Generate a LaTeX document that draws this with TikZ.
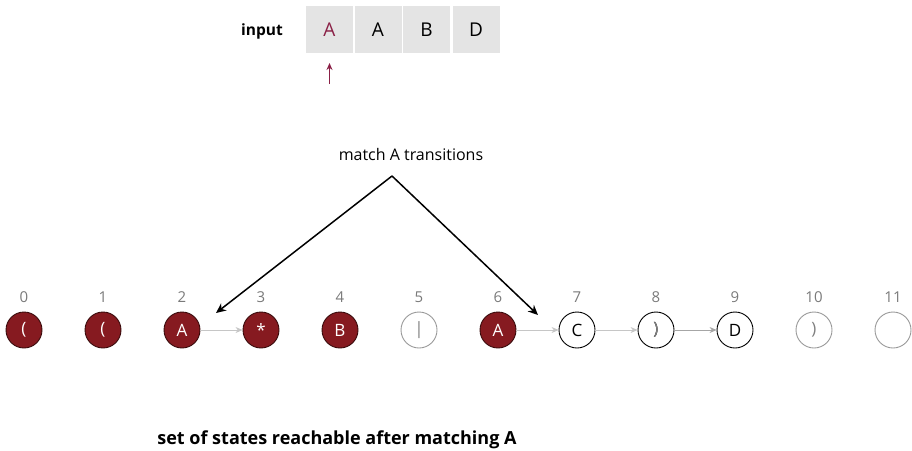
\documentclass[tikz,border=0pt]{standalone}
\usepackage{fontspec}
\setmainfont{Open Sans}
\usetikzlibrary{arrows.meta}
\definecolor{nfared}{HTML}{861A20}
\definecolor{nfaedge}{HTML}{3A0B0C}
\definecolor{cellgray}{HTML}{E4E4E4}
\definecolor{ptrred}{HTML}{8A2046}
\definecolor{idxgray}{HTML}{7A7A7A}
\tikzset{
  x=1pt, y=-1pt,
  cell/.style={fill=cellgray, minimum width=47pt, minimum height=47pt, inner sep=0pt, font=\fontsize{19}{19}\selectfont},
  reached/.style={circle, fill=nfared, draw=nfaedge, line width=0.9pt, minimum size=36pt, inner sep=0pt, text=white, font=\fontsize{17}{17}\selectfont},
  idle/.style={circle, draw=black, line width=0.9pt, minimum size=36pt, inner sep=0pt, font=\fontsize{17}{17}\selectfont},
  idlefaint/.style={idle, draw=gray!80, text=gray},
  idx/.style={text=idxgray, font=\fontsize{15}{15}\selectfont},
  eps/.style={draw=gray!45, line width=0.7pt, -{Stealth[length=7pt,width=6pt]}},
  pointer/.style={draw=black, line width=1.5pt, -{Stealth[length=10pt,width=9pt]}}
}
\begin{document}
\begin{tikzpicture}
\useasboundingbox (0,0) rectangle (912,450);
% input tape
\node[font=\bfseries\fontsize{15.5}{15.5}\selectfont] (inlabel) at (262,31) {input};
\node[cell, text=ptrred] (c0) at (329.5,29.5) {A};
\node[cell] (c1) at (378,29.5) {A};
\node[cell] (c2) at (426.5,29.5) {B};
\node[cell] (c3) at (476,29.5) {D};
\coordinate (ptrtail) at (329.5,84);
\draw[ptrred, line width=1.8pt, -{Stealth[length=7pt,width=6pt]}] (ptrtail) -- ++(0,-21);
% states
\foreach \i/\lab/\sty in {0/(/reached, 1/(/reached, 2/A/reached, 3/*/reached, 4/B/reached,
    5/|/idlefaint, 6/A/reached, 7/C/idle, 8/)/idle, 9/D/idle, 10/)/idlefaint, 11//idlefaint}{
  \node[\sty] (s\i) at (24+79*\i,330) {\lab};
  \node[idx] (n\i) at (24+79*\i,297) {\i};
}
\node[text=gray, font=\fontsize{17}{17}\selectfont] at (s8) {)};
% match transitions
\draw[eps] (s2) -- (s3);
\draw[eps] (s6) -- (s7);
\draw[eps] (s7) -- (s8);
\draw[eps, draw=gray!70] (s8) -- (s9);
% annotation
\node[font=\fontsize{16}{16}\selectfont] (note) at (411,154) {match A transitions};
\coordinate (apex) at (392,176);
\coordinate (endl) at (216,313);
\coordinate (endr) at (538,315);
\draw[pointer] (apex) -- (endl);
\draw[pointer] (apex) -- (endr);
\node[font=\bfseries\fontsize{18}{18}\selectfont] (caption) at (337,440) {set of states reachable after matching A};
\end{tikzpicture}
\end{document}
